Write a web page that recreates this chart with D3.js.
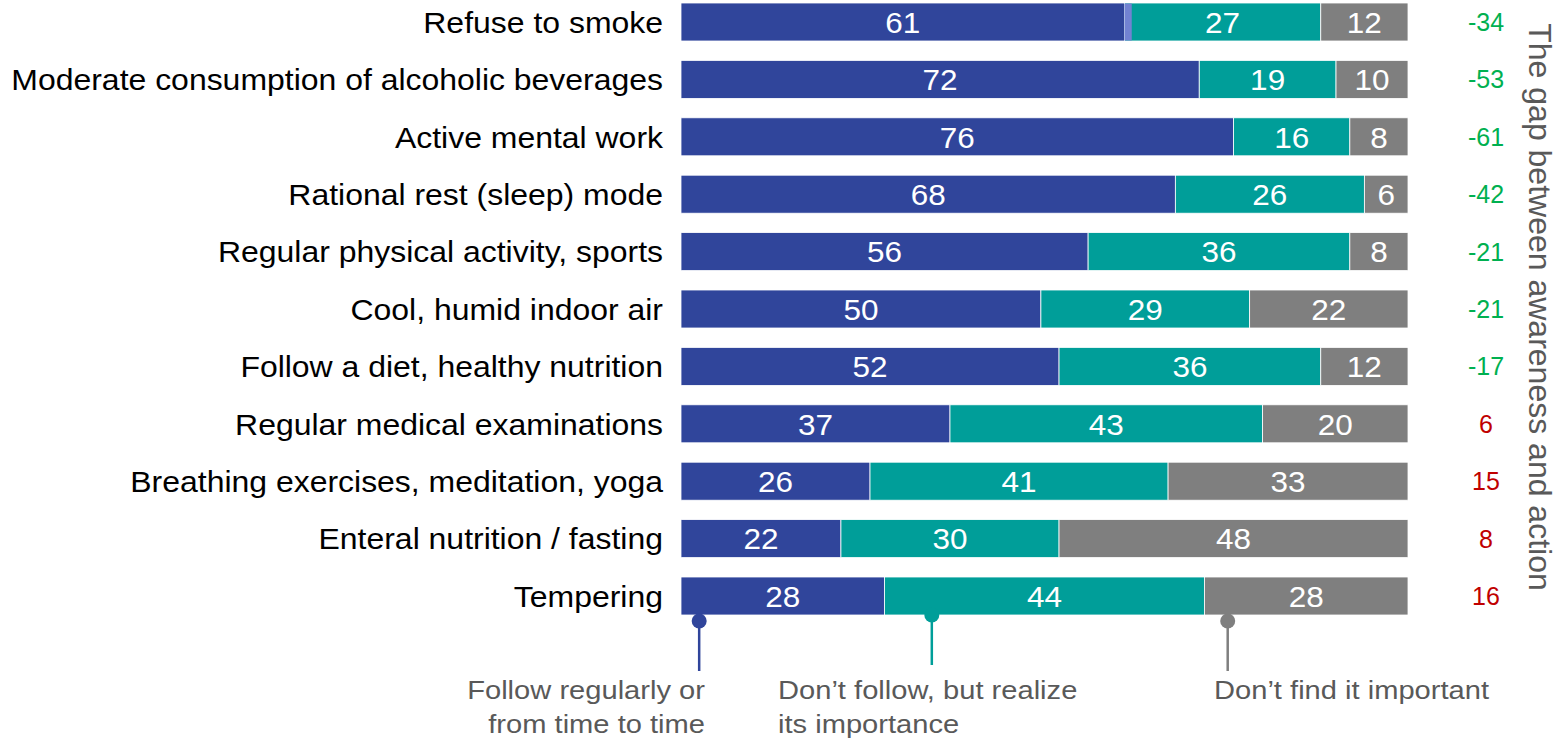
<!DOCTYPE html>
<html><head><meta charset="utf-8">
<script src="https://cdn.jsdelivr.net/npm/d3@7"></script>
<style>
html,body{margin:0;padding:0;background:#fff;}
svg{display:block;font-family:"Liberation Sans",Arial,sans-serif;}
</style></head>
<body>
<svg id="chart" width="1558" height="740"></svg>
<script>
const categories = [
  "Refuse to smoke",
  "Moderate consumption of alcoholic beverages",
  "Active mental work",
  "Rational rest (sleep) mode",
  "Regular physical activity, sports",
  "Cool, humid indoor air",
  "Follow a diet, healthy nutrition",
  "Regular medical examinations",
  "Breathing exercises, meditation, yoga",
  "Enteral nutrition / fasting",
  "Tempering"
];
const follow     = [61, 72, 76, 68, 56, 50, 52, 37, 26, 22, 28];
const highlight  = [1, 0, 0, 0, 0, 0, 0, 0, 0, 0, 0];
const realize    = [27, 19, 16, 26, 36, 29, 36, 43, 41, 30, 44];
const notImportant = [12, 10, 8, 6, 8, 22, 12, 20, 33, 48, 28];
const gap        = [-34, -53, -61, -42, -21, -21, -17, 6, 15, 8, 16];
const legendLabels = [["Follow regularly or", "from time to time"], ["Don\u2019t follow, but realize", "its importance"], ["Don\u2019t find it important"]];
const legendPos = [2.5, 34.5, 75.2];
const gapTitle = "The gap between awareness and action";

const colors = {follow: "#30459B", highlight: "#7282D2", realize: "#009E99", notImportant: "#7F7F7F"};
const svg = d3.select("#chart");

const left = 681, right = 1408;
const y = d3.scaleBand().domain(categories).range([-6.7, 624.7]).paddingInner(0.338).paddingOuter(0.169);

const keys = ["follow", "realize", "notImportant"];
const rows = categories.map((c, i) => ({cat: c, follow: follow[i], highlight: highlight[i], realize: realize[i], notImportant: notImportant[i], gap: gap[i]}));

rows.forEach(r => {
  const total = keys.reduce((s, k) => s + r[k], 0);
  const x = d3.scaleLinear().domain([0, total]).range([left, right]);
  let acc = 0;
  const g = svg.append("g");
  keys.forEach(k => {
    const v = r[k];
    const x0 = x(acc), x1 = x(acc + v);
    g.append("rect").attr("x", x0).attr("y", y(r.cat)).attr("width", x1 - x0).attr("height", y.bandwidth())
      .attr("fill", colors[k]).attr("stroke", "#fff").attr("stroke-width", 0.8);
    g.append("text").attr("transform", `translate(${(x0 + x1) / 2},${y(r.cat) + y.bandwidth() / 2}) scale(1.05,1)`)
      .attr("dy", "0.36em").attr("text-anchor", "middle").attr("fill", "#fff")
      .attr("font-size", 30).text(v);
    acc += v;
  });
  if (r.highlight > 0) {
    const h0 = x(r.follow), h1 = x(r.follow + r.highlight);
    g.append("rect").attr("x", h0).attr("y", y(r.cat) + 0.5).attr("width", h1 - h0).attr("height", y.bandwidth() - 1)
      .attr("fill", colors.highlight);
  }
});

// category labels
svg.append("g").selectAll("text").data(rows).join("text")
  .attr("transform", d => `translate(663,${y(d.cat) + y.bandwidth() / 2}) scale(1.065,1)`).attr("dy", "0.36em")
  .attr("text-anchor", "end").attr("fill", "#000").attr("font-size", 30)
  .text(d => d.cat);

// gap values
svg.append("g").selectAll("text").data(rows).join("text")
  .attr("x", 1486).attr("y", d => y(d.cat) + y.bandwidth() / 2).attr("dy", "0.36em")
  .attr("text-anchor", "middle").attr("font-size", 25)
  .attr("fill", d => d.gap < 0 ? "#00B050" : "#C00000")
  .text(d => d.gap);

// rotated title
svg.append("text").attr("transform", "translate(1529,307) rotate(90)")
  .attr("text-anchor", "middle").attr("font-size", 32).attr("fill", "#595959").text(gapTitle);

// legend
const xl = d3.scaleLinear().domain([0, 100]).range([left, right]);
const lastBottom = y(categories[categories.length - 1]) + y.bandwidth();
const legColors = [colors.follow, colors.realize, colors.notImportant];
const circleY = [lastBottom + 6, lastBottom, lastBottom + 6];
const lineEnd = [671, 665, 671];
legendPos.forEach((p, i) => {
  const cx = xl(p);
  svg.append("line").attr("x1", cx).attr("x2", cx).attr("y1", circleY[i]).attr("y2", lineEnd[i])
    .attr("stroke", legColors[i]).attr("stroke-width", 2.5);
  svg.append("circle").attr("cx", cx).attr("cy", circleY[i]).attr("r", 7.5).attr("fill", legColors[i]);
});
// legend texts
const legTextX = [705, 778, 1214];
const legAnchor = ["end", "start", "start"];
legendLabels.forEach((lines, i) => {
  lines.forEach((t, j) => {
    svg.append("text").attr("transform", `translate(${legTextX[i]},${699 + j * 34}) scale(1.12,1)`)
      .attr("text-anchor", legAnchor[i]).attr("font-size", 26).attr("fill", "#595959").text(t);
  });
});
</script>
</body></html>
